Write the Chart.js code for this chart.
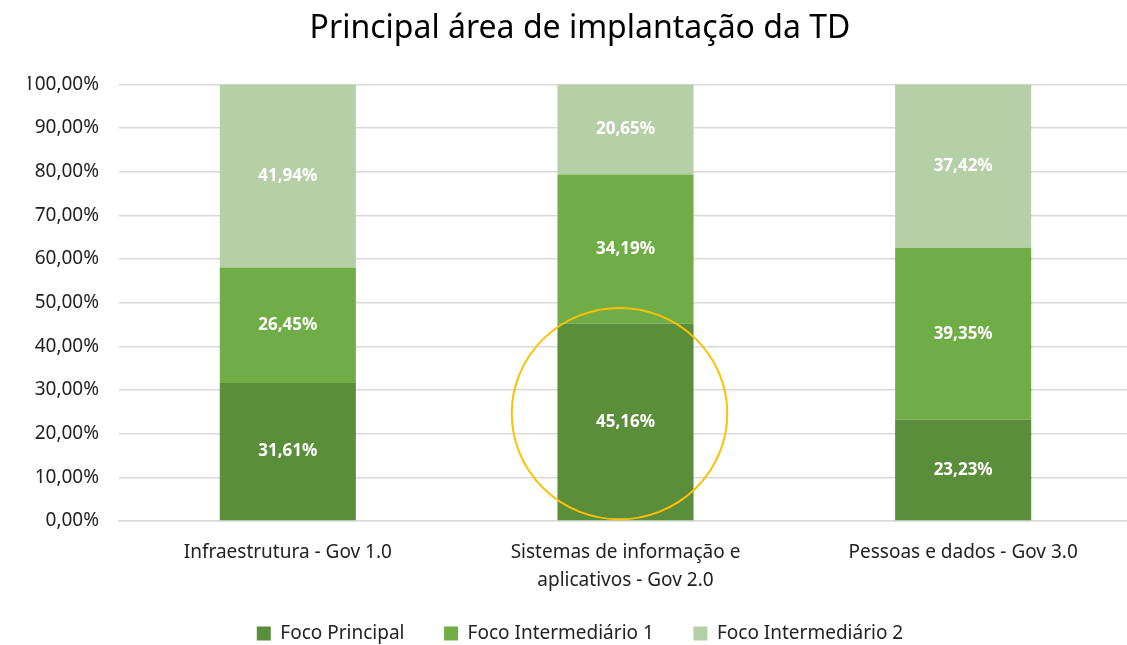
<!DOCTYPE html>
<html>
<head>
<meta charset="utf-8">
<script src="https://cdn.jsdelivr.net/npm/chart.js@4"></script>
<style>
  html, body { margin: 0; padding: 0; background: #fff; overflow: hidden; }
  #wrap { width: 1132px; height: 645px; }
</style>
</head>
<body>
<div id="wrap"><canvas id="grafico"></canvas></div>
<script>
const categorias = [
  "Infraestrutura - Gov 1.0",
  ["Sistemas de informação e", "aplicativos - Gov 2.0"],
  "Pessoas e dados - Gov 3.0"
];
const focoPrincipal = [31.61, 45.16, 23.23];
const focoIntermediario1 = [26.45, 34.19, 39.35];
const focoIntermediario2 = [41.94, 20.65, 37.42];
const ticksY = [0, 10, 20, 30, 40, 50, 60, 70, 80, 90, 100];

const fonte = "'Noto Sans', 'Open Sans', sans-serif";

const formatPct = (v) => v.toFixed(2).replace('.', ',') + '%';

// rótulos brancos dentro das barras
const rotulos = {
  id: 'rotulos',
  afterDatasetsDraw(chart) {
    const ctx = chart.ctx;
    ctx.save();
    ctx.fillStyle = '#fff';
    ctx.font = `bold 17px ${fonte}`;
    ctx.textAlign = 'center';
    ctx.textBaseline = 'middle';
    chart.data.datasets.forEach((ds, i) => {
      chart.getDatasetMeta(i).data.forEach((bar, j) => {
        const p = bar.getProps(['x', 'y', 'base'], true);
        ctx.fillText(formatPct(ds.data[j]), p.x, (p.y + p.base) / 2);
      });
    });
    ctx.restore();
  }
};

// círculo amarelo de destaque na segunda coluna
const destaque = { indice: 1, centro: 24.6, raio: 24.2, dx: -6 };
const circulo = {
  id: 'circulo',
  afterDatasetsDraw(chart) {
    const { ctx, scales } = chart;
    const cx = scales.x.getPixelForValue(destaque.indice) + destaque.dx;
    const cy = scales.y.getPixelForValue(destaque.centro);
    const ry = scales.y.getPixelForValue(destaque.centro - destaque.raio) - cy;
    ctx.save();
    ctx.strokeStyle = '#FFC000';
    ctx.lineWidth = 2;
    ctx.beginPath();
    ctx.ellipse(cx, cy, ry * 1.02, ry, 0, 0, Math.PI * 2);
    ctx.stroke();
    ctx.restore();
  }
};

const canvas = document.getElementById('grafico');

const config = {
  type: 'bar',
  data: {
    labels: categorias,
    datasets: [
      { label: 'Foco Principal', data: focoPrincipal, backgroundColor: '#5B8E3A' },
      { label: 'Foco Intermediário 1', data: focoIntermediario1, backgroundColor: '#70AD47' },
      { label: 'Foco Intermediário 2', data: focoIntermediario2, backgroundColor: '#B5CFA6' }
    ]
  },
  options: {
    responsive: true,
    maintainAspectRatio: false,
    animation: false,
    datasets: { bar: { categoryPercentage: 1, barPercentage: 0.403 } },
    layout: { padding: { left: 28, right: 0, top: 8, bottom: -8 } },
    plugins: {
      title: {
        display: true,
        text: 'Principal área de implantação da TD',
        color: '#000',
        font: { family: fonte, size: 32, weight: 'normal' },
        padding: { top: 2, bottom: 36 }
      },
      legend: {
        position: 'bottom',
        labels: {
          color: '#222',
          font: { family: fonte, size: 19 },
          boxWidth: 14,
          boxHeight: 14,
          padding: 5,
          generateLabels: (chart) => {
            const itens = Chart.defaults.plugins.legend.labels.generateLabels(chart);
            itens.forEach((it, i) => {
              if (i < itens.length - 1) it.text = it.text + '       ';
            });
            return itens;
          }
        }
      },
      tooltip: { enabled: false }
    },
    scales: {
      x: {
        stacked: true,
        grid: { display: false },
        border: { color: '#d9d9d9', width: 1.5 },
        afterFit: (axis) => { axis.height = 98; },
        ticks: { color: '#222', font: { family: fonte, size: 19, lineHeight: 1.5 }, padding: 9 }
      },
      y: {
        stacked: true,
        min: 0,
        max: 100,
        afterBuildTicks: (axis) => { axis.ticks = ticksY.map(v => ({ value: v })); },
        afterFit: (axis) => { axis.width = 91; },
        grid: { color: '#d9d9d9', lineWidth: 1.5, drawTicks: false },
        border: { display: false },
        ticks: {
          color: '#222',
          font: { family: fonte, size: 19 },
          padding: 20,
          callback: (v) => formatPct(v)
        }
      }
    }
  },
  plugins: [rotulos, circulo]
};

new Chart(canvas, config);
</script>
</body>
</html>
